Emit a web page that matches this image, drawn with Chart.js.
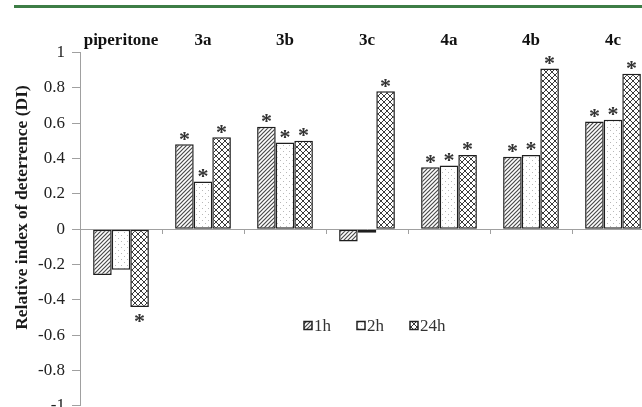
<!DOCTYPE html>
<html>
<head>
<meta charset="utf-8">
<script src="https://cdn.jsdelivr.net/npm/chart.js@4/dist/chart.umd.min.js"></script>
<style>
  html, body { margin: 0; padding: 0; background: #fff; overflow: hidden; }
  #page { position: relative; width: 642px; height: 407px; overflow: hidden; }
  #myChart { position: absolute; left: 0; top: 0; }
  #topRule { position: absolute; left: 14px; top: 5px; width: 628px; height: 3px; background: #3d7d46; }
</style>
</head>
<body>
<div id="page">
  <canvas id="myChart" width="660" height="423"></canvas>
  <div id="topRule"></div>
</div>
<script>
// categories (compounds) shown along the top
const categories = ['piperitone', '3a', '3b', '3c', '4a', '4b', '4c'];

// relative index of deterrence for each exposure time
const di1h = [-0.26, 0.48, 0.58, -0.07, 0.35, 0.41, 0.61];
const di2h = [-0.23, 0.27, 0.49, -0.02, 0.36, 0.42, 0.62];
const di24h = [-0.44, 0.52, 0.50, 0.78, 0.42, 0.91, 0.88];

// significance stars (* above / below the bar)
const star1h = [false, true, true, false, true, true, true];
const star2h = [false, true, true, false, true, true, true];
const star24h = [true, true, true, true, true, true, true];

// y axis range and step
const yMin = -1;
const yMax = 1;
const yStep = 0.2;

const ctx = document.getElementById('myChart').getContext('2d');

// fill patterns for the three series
function makePattern(kind) {
    const tile = document.createElement('canvas');
    const size = kind === 'hatch' ? 4 : 6;
    tile.width = size;
    tile.height = size;
    const g = tile.getContext('2d');
    g.fillStyle = '#ffffff';
    g.fillRect(0, 0, size, size);
    if (kind === 'hatch') {
        g.strokeStyle = '#4a4a4a';
        g.lineWidth = 1.2;
        g.beginPath();
        g.moveTo(-1, size + 1); g.lineTo(size + 1, -1);
        g.moveTo(-1, 1); g.lineTo(1, -1);
        g.moveTo(size - 1, size + 1); g.lineTo(size + 1, size - 1);
        g.stroke();
    } else if (kind === 'dots') {
        g.fillStyle = '#b8b8b8';
        g.fillRect(1, 1, 1, 1);
        g.fillRect(4, 4, 1, 1);
    } else {
        g.strokeStyle = '#3a3a3a';
        g.lineWidth = 1;
        g.beginPath();
        g.moveTo(0, 0); g.lineTo(size, size);
        g.moveTo(0, size); g.lineTo(size, 0);
        g.stroke();
    }
    return ctx.createPattern(tile, 'repeat');
}

const hatchFill = makePattern('hatch');
const dotFill = makePattern('dots');
const crossFill = makePattern('cross');

// stars drawn over each marked bar
const starPlugin = {
    id: 'stars',
    afterDatasetsDraw(chart) {
        const c = chart.ctx;
        c.save();
        c.fillStyle = '#333';
        c.font = 'bold 22px "Liberation Serif"';
        c.textAlign = 'center';
        c.textBaseline = 'alphabetic';
        chart.data.datasets.forEach((ds, i) => {
            const meta = chart.getDatasetMeta(i);
            meta.data.forEach((bar, j) => {
                if (!ds.stars[j]) return;
                const center = ds.data[j] >= 0 ? bar.y - 9 : bar.y + 11;
                c.fillText('*', bar.x, center + 10.5);
            });
        });
        c.restore();
    }
};

// rotated y axis title
const yTitlePlugin = {
    id: 'yTitle',
    afterDraw(chart) {
        const c = chart.ctx;
        c.save();
        c.translate(22, 207.5);
        c.rotate(-Math.PI / 2);
        c.fillStyle = '#1a1a1a';
        c.font = 'bold 17.5px "Liberation Serif"';
        c.textAlign = 'center';
        c.textBaseline = 'middle';
        c.fillText('Relative index of deterrence (DI)', 0, 0);
        c.restore();
    }
};

// legend sitting inside the plot
const legendPlugin = {
    id: 'insideLegend',
    afterDraw(chart) {
        const c = chart.ctx;
        c.save();
        c.font = '17px "Liberation Serif"';
        c.textBaseline = 'middle';
        let x = 304;
        const y = 325.5;
        chart.data.datasets.forEach(ds => {
            c.fillStyle = ds.backgroundColor;
            c.fillRect(x, y - 4, 8, 8);
            c.strokeStyle = '#222';
            c.lineWidth = 1.5;
            c.strokeRect(x, y - 4, 8, 8);
            c.fillStyle = '#333';
            c.fillText(ds.label, x + 10, y + 1);
            x += 10 + c.measureText(ds.label).width + 26;
        });
        c.restore();
    }
};

Chart.defaults.font.family = '"Liberation Serif", "Times New Roman", serif';
Chart.defaults.color = '#222';

const barStyle = {
    xAxisID: 'x',
    borderColor: '#1e1e1e',
    borderWidth: 1.5,
    borderSkipped: false,
    categoryPercentage: 0.68,
    barPercentage: 1,
};

const myChart = new Chart(ctx, {
    type: 'bar',
    data: {
        labels: categories,
        datasets: [
            { ...barStyle, label: '1h', data: di1h, stars: star1h, backgroundColor: hatchFill },
            { ...barStyle, label: '2h', data: di2h, stars: star2h, backgroundColor: dotFill },
            { ...barStyle, label: '24h', data: di24h, stars: star24h, backgroundColor: crossFill },
        ],
    },
    options: {
        responsive: false,
        animation: false,
        layout: { padding: { left: 0, right: 6, top: 0, bottom: 3 } },
        plugins: {
            legend: { display: false },
            tooltip: { enabled: false },
        },
        scales: {
            x: {
                position: { y: 0 },
                ticks: { display: false },
                grid: { offset: true, drawOnChartArea: false, drawTicks: true, tickLength: 4, color: '#a0a0a0' },
                border: { color: '#a0a0a0', width: 1 },
                afterFit: (scale) => { scale.height = 0; },
            },
            xTop: {
                type: 'category',
                labels: categories,
                position: 'top',
                offset: true,
                grid: { display: false, drawTicks: false },
                border: { display: false },
                ticks: { font: { size: 17, weight: 'bold' }, color: '#111', padding: 2 },
                afterFit: (scale) => { scale.height = 52.5; },
            },
            y: {
                min: yMin,
                max: yMax,
                ticks: {
                    stepSize: yStep,
                    font: { size: 17 },
                    color: '#222',
                    padding: 7,
                    callback: (v) => String(Math.round(v * 10) / 10),
                },
                grid: { drawOnChartArea: false, drawTicks: true, tickLength: 8, color: '#a0a0a0' },
                border: { color: '#a0a0a0' },
                afterFit: (scale) => { scale.width = 80; },
            },
        },
    },
    plugins: [starPlugin, yTitlePlugin, legendPlugin],
});
</script>
</body>
</html>
